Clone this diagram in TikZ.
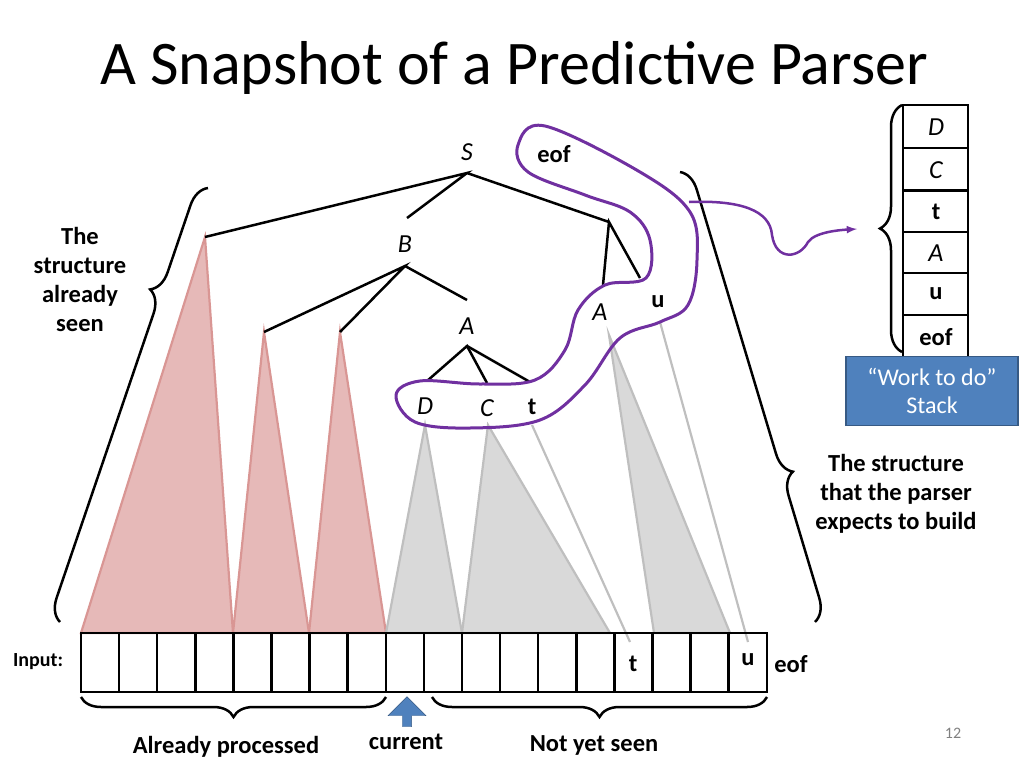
\documentclass[tikz,border=0pt]{standalone}
\usepackage{fontspec}
\setmainfont{Carlito}
\usetikzlibrary{decorations.pathreplacing,shapes.arrows}
\definecolor{purp}{HTML}{7030A0}
\definecolor{seenred}{HTML}{E6B9B8}
\definecolor{seenedge}{HTML}{D99694}
\definecolor{todogray}{HTML}{D9D9D9}
\definecolor{stackblue}{HTML}{4F81BD}
\tikzset{
  lbl/.style={font=\fontsize{24.5}{29}\selectfont\bfseries},
  sym/.style={font=\fontsize{26}{30}\selectfont\itshape},
  seen/.style={fill=seenred,draw=seenedge,line width=2.2pt},
  todo/.style={fill=todogray,draw=gray!50,line width=2.2pt},
  edge/.style={line width=2.5pt},
  brc/.style={decorate,line width=2.5pt},
}
\begin{document}
\begin{tikzpicture}[x=1pt,y=-1pt]
    \useasboundingbox (0,0) rectangle (1024,768);
    % Titel
    \node[font=\fontsize{62}{70}\selectfont,anchor=west,inner sep=0pt] (title) at (100,68) {A Snapshot of a Predictive Parser};
    \node[font=\fontsize{16}{20}\selectfont,text=gray] (page) at (953,733) {12};

    % Dreiecke (schon gesehen)
    \draw[seen] (205,237) -- (233,633) -- (81,633) -- cycle;
    \draw[seen] (264,332) -- (309,633) -- (233,633) -- cycle;
    \draw[seen] (340,332) -- (386,633) -- (309,633) -- cycle;
    % Dreiecke (noch zu bauen)
    \draw[todo] (425,425) -- (462,633) -- (386,633) -- cycle;
    \draw[todo] (488,425) -- (610,633) -- (462,633) -- cycle;
    \draw[todo] (609,335) -- (730,633) -- (654,633) -- cycle;
    \draw[gray!50,line width=2.2pt] (532,425) -- (630,642);
    \draw[gray!50,line width=2.2pt] (660,322) -- (748,642);

    % Baum
    \coordinate (s) at (467,173);
    \coordinate (b) at (405,266);
    \coordinate (a) at (467,346);
    \coordinate (r) at (609,222);
    \node[sym] (sS) at (467,152) {S};
    \node[sym] (sB) at (405,244) {B};
    \node[sym] (sA) at (467,326) {A};
    \node[sym] (sD) at (425,406) {D};
    \node[sym] (sC) at (487,408) {C};
    \node[lbl] (sT) at (532,407) {t};
    \node[sym] (sA2) at (600,312) {A};
    \node[lbl] (sU) at (658,302) {u};
    \node[lbl] (sEof) at (554,154) {eof};
    \draw[edge] (205,237) -- (s) -- (407,218);
    \draw[edge] (s) -- (r);
    \draw[edge] (264,332) -- (b) -- (340,332);
    \draw[edge] (b) -- (467,300);
    \draw[edge] (427,381) -- (a) -- (487,383);
    \draw[edge] (a) -- (530,382);
    \draw[edge] (603,285) -- (r) -- (640,278);

    % Eingabe
    \foreach \i in {0,...,17}
        \draw[line width=2.5pt] (81+\i*38.1,633) rectangle (81+\i*38.1+38.1,692);
    \node[lbl] (inT) at (633,664) {t};
    \node[lbl] (inU) at (748,660) {u};
    \node[lbl] (inEof) at (791,664) {eof};
    \node[font=\fontsize{20}{24}\selectfont\bfseries] (inLbl) at (38,662) {Input:};

    % Klammern unten
    \draw[brc,decoration={brace,mirror,amplitude=20pt}] (81,697) -- (386,697);
    \draw[brc,decoration={brace,mirror,amplitude=20pt}] (432,697) -- (767,697);
    \node[lbl] (done) at (226,747) {Already processed};
    \node[lbl] (notyet) at (594,745) {Not yet seen};
    \node[single arrow,draw=stackblue!70!black,fill=stackblue,shape border rotate=90,
          minimum height=30pt,minimum width=38pt,single arrow head extend=7pt,inner sep=2pt] (cur) at (407,714) {};
    \node[lbl] (curLbl) at (406,742) {current};

    % schraege Klammern
    \draw[brc,decoration={brace,amplitude=22pt,aspect=0.75}] (60,622) -- (208,188);
    \node[lbl,align=center] (seenTxt) at (80,279) {The\\structure\\already\\seen};
    \draw[brc,decoration={brace,amplitude=22pt,aspect=0.68}] (680,172) -- (815,622);
    \node[lbl,align=center] (expTxt) at (896,494) {The structure\\that the parser\\expects to build};

    % Stapel
    \foreach \t/\y/\h in {D/105/43, C/148/42, t/191/41, A/232/41, u/273/42, eof/315/42}
        \draw[line width=2.5pt] (903,\y) rectangle (968,\y+\h);
    \node[sym] (stD) at (936,127) {D};
    \node[sym] (stC) at (936,170) {C};
    \node[lbl] (stT) at (936,212) {t};
    \node[sym] (stA) at (936,253) {A};
    \node[lbl] (stU) at (936,294) {u};
    \node[lbl] (stEof) at (936,337) {eof};
    \draw[brc,decoration={brace,amplitude=22pt}] (902,352) -- (902,105);
    \node[draw=stackblue!70!black,fill=stackblue,text=white,align=center,line width=1.5pt,
          minimum width=172pt,minimum height=69pt,font=\fontsize{24}{28}\selectfont] (stack) at (932,391) {“Work to do”\\Stack};

    % Grenze des Stapels im Baum
    \draw[purp,line width=3pt] plot[smooth cycle,tension=0.6] coordinates {
        (545,126) (640,172) (690,212) (697,260) (688,305) (660,322) (620,338)
        (585,385) (540,420) (470,428) (415,422) (396,395) (420,381) (480,384)
        (535,380) (565,350) (578,310) (605,285) (646,278) (650,240) (630,212)
        (585,195) (528,172) (518,145)};
    \draw[purp,line width=2.5pt,-latex] (689,202) .. controls (740,200) and (770,210) .. (772,235)
        .. controls (776,262) and (800,258) .. (808,242) .. controls (815,232) and (840,230) .. (857,229);
\end{tikzpicture}
\end{document}
